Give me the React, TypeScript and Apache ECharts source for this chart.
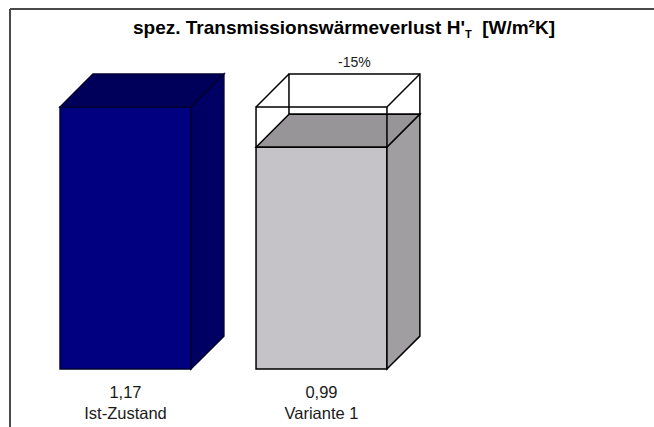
import React, { useEffect, useRef } from "react";
import * as echarts from "echarts";

const categories = ["Ist-Zustand", "Variante 1"];
const values = [1.17, 0.99];
const referenceValues = [null, 1.17];
const changeLabels = ["", "-15%"];

const faceColors = [
  { front: "#000080", top: "#00005a", side: "#000064", edge: "#000030" },
  { front: "#c5c3c7", top: "#979597", side: "#a09ea1", edge: "#000000" },
];

export default function App() {
  const ref = useRef<HTMLDivElement>(null);
  useEffect(() => {
    document.body.style.margin = "0";
    const chart = echarts.init(ref.current!, null, { renderer: "svg" });
    const option: any = {
      animation: false,
      backgroundColor: "#ffffff",
      title: {
        text: "{t|spez. Transmissionswärmeverlust H'}{s|T}{t|  [W/m²K]}",
        left: 339,
        textAlign: "center",
        top: 9,
        textStyle: {
          rich: {
            t: { fontFamily: "Liberation Sans, Arial", fontWeight: "bold", fontSize: 19, color: "#000", lineHeight: 26 },
            s: { fontFamily: "Liberation Sans, Arial", fontWeight: "bold", fontSize: 11, color: "#000", lineHeight: 26, padding: [14, 0, 0, 0] },
          },
        },
      },
      graphic: [
        { type: "line", shape: { x1: 10, y1: 9, x2: 654, y2: 9 }, style: { stroke: "#4a4a4a", lineWidth: 2 } },
        { type: "line", shape: { x1: 10, y1: 9, x2: 10, y2: 427 }, style: { stroke: "#4a4a4a", lineWidth: 2 } },
      ],
      grid: { left: 27.5, right: 234.5, top: 33, bottom: 58 },
      xAxis: {
        type: "category",
        data: categories,
        axisLine: { show: false },
        axisTick: { show: false },
        axisLabel: {
          margin: 12,
          fontFamily: "Liberation Sans, Arial",
          fontSize: 16.5,
          lineHeight: 21,
          color: "#1a1a1a",
          formatter: (v: string, i: number) => `${values[i].toFixed(2).replace(".", ",")}\n${v}`,
        },
      },
      yAxis: { type: "value", min: 0, max: 1.5, show: false, splitLine: { show: false } },
      series: [
        {
          type: "custom",
          data: values.map((v, i) => [i, v, referenceValues[i] ?? 0]),
          renderItem: (params: any, api: any) => {
            const idx = api.value(0);
            const v = api.value(1);
            const refV = api.value(2);
            const c = faceColors[idx];
            const base = api.coord([idx, 0]);
            const top = api.coord([idx, v]);
            const band = api.size([1, 0])[0];
            const w = band * 0.668;
            const d = band * 0.168;
            const x0 = base[0] - w / 2;
            const x1 = base[0] + w / 2;
            const yb = base[1];
            const yt = top[1];
            const children: any[] = [
              { type: "rect", shape: { x: x0, y: yt, width: w, height: yb - yt }, style: { fill: c.front, stroke: c.edge, lineWidth: 1.5 } },
              { type: "polygon", shape: { points: [[x0, yt], [x0 + d, yt - d], [x1 + d, yt - d], [x1, yt]] }, style: { fill: c.top, stroke: c.edge, lineWidth: 1.5 } },
              { type: "polygon", shape: { points: [[x1, yt], [x1 + d, yt - d], [x1 + d, yb - d], [x1, yb]] }, style: { fill: c.side, stroke: c.edge, lineWidth: 1.5 } },
            ];
            if (refV > 0) {
              const yr = api.coord([idx, refV])[1];
              const ln = (a: number[], b: number[]) => ({ type: "line", shape: { x1: a[0], y1: a[1], x2: b[0], y2: b[1] }, style: { stroke: "#000", lineWidth: 1.5 } });
              children.push(
                { type: "rect", shape: { x: x0, y: yr, width: w, height: yt - yr }, style: { fill: "none", stroke: "#000", lineWidth: 1.5 } },
                { type: "rect", shape: { x: x0 + d, y: yr - d, width: w, height: yt - yr }, style: { fill: "none", stroke: "#000", lineWidth: 1.5 } },
                ln([x0, yr], [x0 + d, yr - d]),
                ln([x1, yr], [x1 + d, yr - d]),
              );
              children.push({
                type: "text",
                style: {
                  text: changeLabels[idx],
                  x: base[0] + d,
                  y: yr - d - 12,
                  align: "center",
                  verticalAlign: "middle",
                  fontFamily: "Liberation Sans, Arial",
                  fontSize: 14,
                  fill: "#1a1a1a",
                },
              });
            }
            return { type: "group", children };
          },
        },
      ],
    };
    chart.setOption(option);
    return () => chart.dispose();
  }, []);
  return <div ref={ref} style={{ width: 654, height: 427 }} />;
}
